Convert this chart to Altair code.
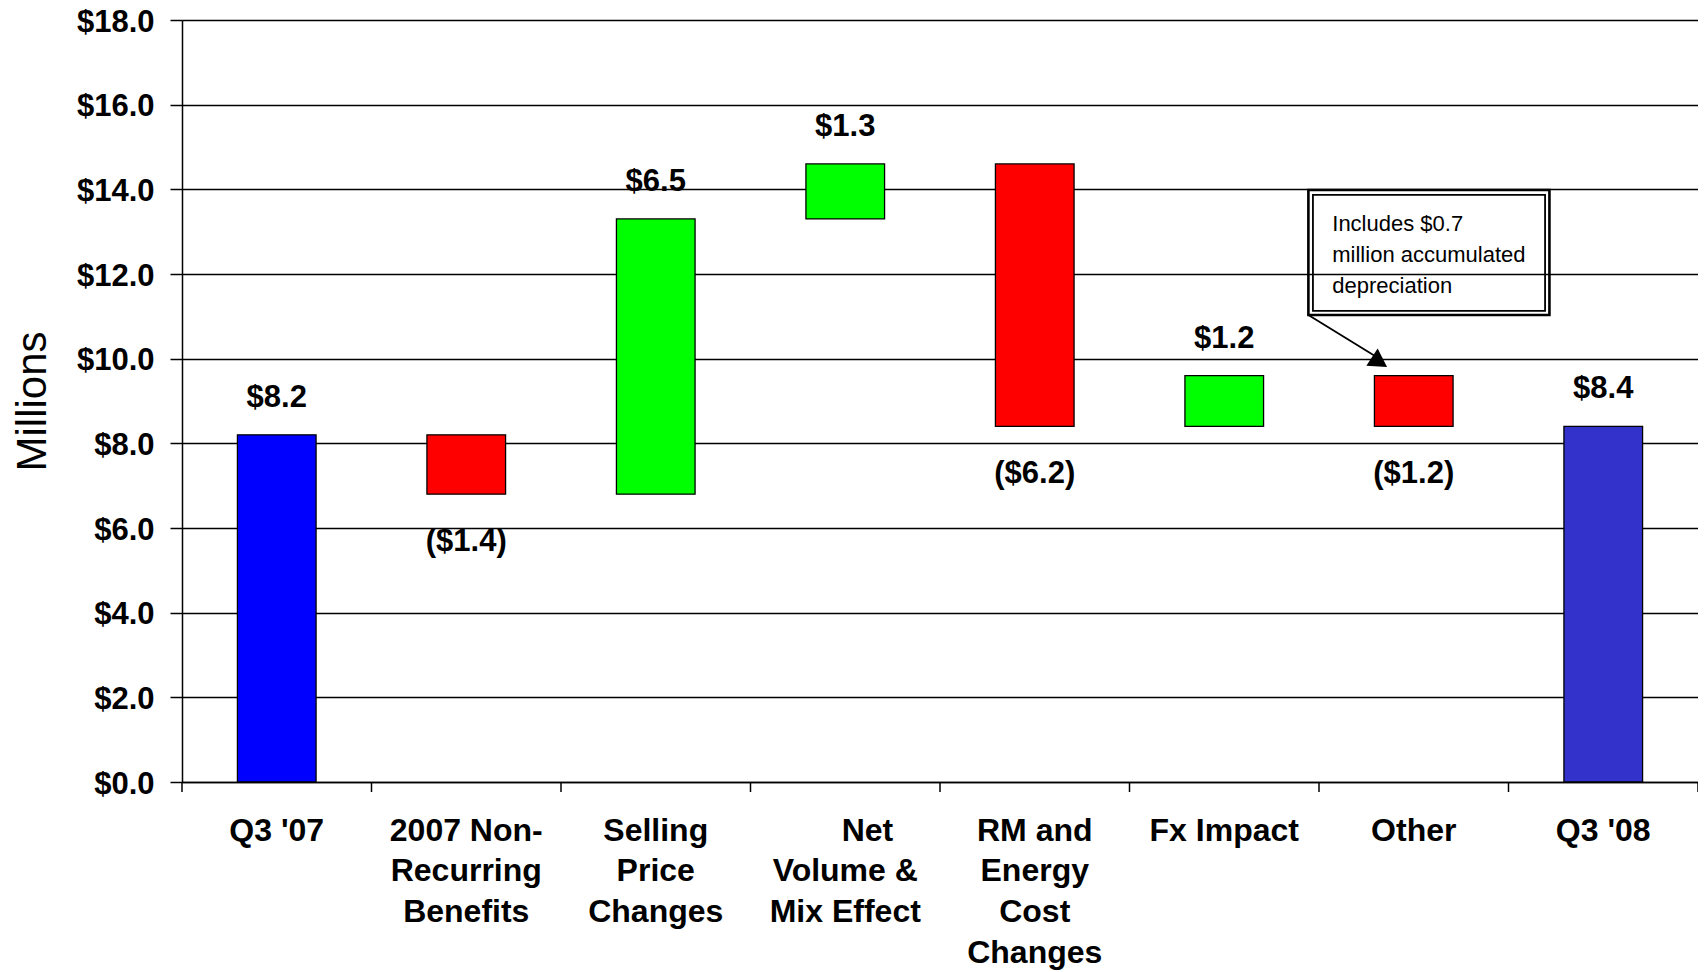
import altair as alt
import pandas as pd

# ---- data ----
categories = [
    "Q3 '07",
    "2007 Non-|Recurring|Benefits",
    "Selling|Price|Changes",
    "\u200b\u00a0\u00a0\u00a0\u00a0\u00a0Net|Volume &|Mix Effect",
    "RM and|Energy|Cost|Changes",
    "Fx Impact",
    "Other",
    "Q3 '08",
]
changes = [8.2, -1.4, 6.5, 1.3, -6.2, 1.2, -1.2, 8.4]
kinds = ["start", "decrease", "increase", "increase", "decrease", "increase", "decrease", "end"]
y_ticks = [0, 2, 4, 6, 8, 10, 12, 14, 16, 18]
note_lines = ["Includes $0.7", "million accumulated", "depreciation"]

kind_domain = ["start", "end", "increase", "decrease"]
kind_colors = ["#0000FF", "#3333CC", "#00FF00", "#FF0000"]

# ---- waterfall table ----
rows = []
running = 0.0
for cat, v, k in zip(categories, changes, kinds):
    if k in ("start", "end"):
        s, e = 0.0, v
    else:
        s, e = running, running + v
    running = e
    lab = "${:.1f}".format(abs(v)) if v > 0 else "(${:.1f})".format(abs(v))
    rows.append(dict(cat=cat, kind=k, change=v, start=s, end=e,
                     top=max(s, e), bottom=min(s, e), label=lab))
df = pd.DataFrame(rows)

FONT = "Liberation Sans"
W, H = 1516, 762
ydom = alt.Scale(domain=[0, 18], nice=False, zero=False)

xband = alt.X(
    "cat:N", sort=categories,
    scale=alt.Scale(type="band", paddingInner=0, paddingOuter=0),
    axis=alt.Axis(
        title=None, labelAngle=0, labelExpr="split(datum.label, '|')",
        labelFont=FONT, labelFontSize=32, labelFontWeight="bold", labelColor="black",
        labelLineHeight=40.7, labelPadding=33, labelLimit=0, labelOverlap=False,
        ticks=False, tickSize=0, grid=False,
        domainColor="black", domainWidth=1.5,
    ),
)

yaxis = alt.Axis(
    values=y_ticks, labelExpr="'$' + format(datum.value, '.1f')",
    labelFont=FONT, labelFontSize=31, labelFontWeight="bold", labelColor="black",
    labelPadding=16, labelOffset=2, tickSize=12, tickColor="black", tickWidth=1.5,
    domainColor="black", domainWidth=1.5,
    grid=True, gridColor="black", gridWidth=1.5, gridOpacity=1,
    title="Millions", titleFont=FONT, titleFontSize=42, titleFontWeight="normal",
    titleColor="black", titlePadding=22,
)

base = alt.Chart(df)
bars = base.mark_bar(width=alt.RelativeBandSize(0.415), stroke="black", strokeWidth=1.3).encode(
    x=xband,
    y=alt.Y("start:Q", scale=ydom, axis=yaxis),
    y2="end:Q",
    color=alt.Color("kind:N", scale=alt.Scale(domain=kind_domain, range=kind_colors), legend=None),
)
above = base.transform_filter("datum.change > 0").mark_text(
    dy=-28, baseline="alphabetic", font=FONT, fontSize=31, fontWeight="bold", color="black"
).encode(x=alt.X("cat:N", sort=categories), y=alt.Y("top:Q"), text="label:N")
below = base.transform_filter("datum.change < 0").mark_text(
    dy=57, baseline="alphabetic", font=FONT, fontSize=31, fontWeight="bold", color="black"
).encode(x=alt.X("cat:N", sort=categories), y=alt.Y("bottom:Q"), text="label:N")

main = alt.layer(bars, above, below)

# ---- annotation layer on a category-index scale ----
n = len(categories)
idx = alt.Scale(domain=[0, n], nice=False, zero=False)

boxes = pd.DataFrame({
    "x": [5.944, 5.968], "x2": [7.216, 7.193],
    "y": [13.985, 13.87], "y2": [11.03, 11.13], "w": [2.6, 1.8],
})
box_layer = alt.Chart(boxes).mark_rect(fillOpacity=0, stroke="black").encode(
    x=alt.X("x:Q", scale=idx, axis=None), x2="x2:Q",
    y=alt.Y("y:Q", scale=ydom), y2="y2:Q",
    strokeWidth=alt.StrokeWidth("w:Q", scale=None),
)

note = alt.Chart(pd.DataFrame({"x": [6.07], "y": [13.02]})).mark_text(
    text=note_lines, align="left", baseline="alphabetic", lineHeight=31.3,
    font=FONT, fontSize=22, color="black",
).encode(x=alt.X("x:Q", scale=idx, axis=None), y=alt.Y("y:Q", scale=ydom))

arrow = alt.Chart(pd.DataFrame({"x": [5.944], "y": [11.03], "x2": [6.30], "y2": [10.05]})).mark_rule(
    color="black", strokeWidth=1.8
).encode(x=alt.X("x:Q", scale=idx, axis=None), x2="x2:Q", y=alt.Y("y:Q", scale=ydom), y2="y2:Q")

head = alt.Chart(pd.DataFrame({"x": [6.307], "y": [10.03]})).mark_point(
    shape="triangle-up", size=430, filled=True, color="black", opacity=1, angle=3
).encode(x=alt.X("x:Q", scale=idx, axis=None), y=alt.Y("y:Q", scale=ydom))

ticks = alt.Chart(pd.DataFrame({"b": list(range(n + 1)), "y": [0.0] * (n + 1), "y2": [-0.236] * (n + 1)})).mark_rule(
    color="black", strokeWidth=1.5
).encode(x=alt.X("b:Q", scale=idx, axis=None), y=alt.Y("y:Q", scale=ydom), y2="y2:Q")

annot = alt.layer(box_layer, note, arrow, head, ticks)

chart = alt.layer(main, annot).resolve_scale(x="independent").properties(
    width=W, height=H,
    autosize=alt.AutoSizeParams(type="none"),
    padding={"left": 174, "top": 12, "right": 0, "bottom": 190},
).configure_view(stroke=None).configure(background="white")

chart.save("out.html", embed_options={"renderer": "svg", "actions": False})
